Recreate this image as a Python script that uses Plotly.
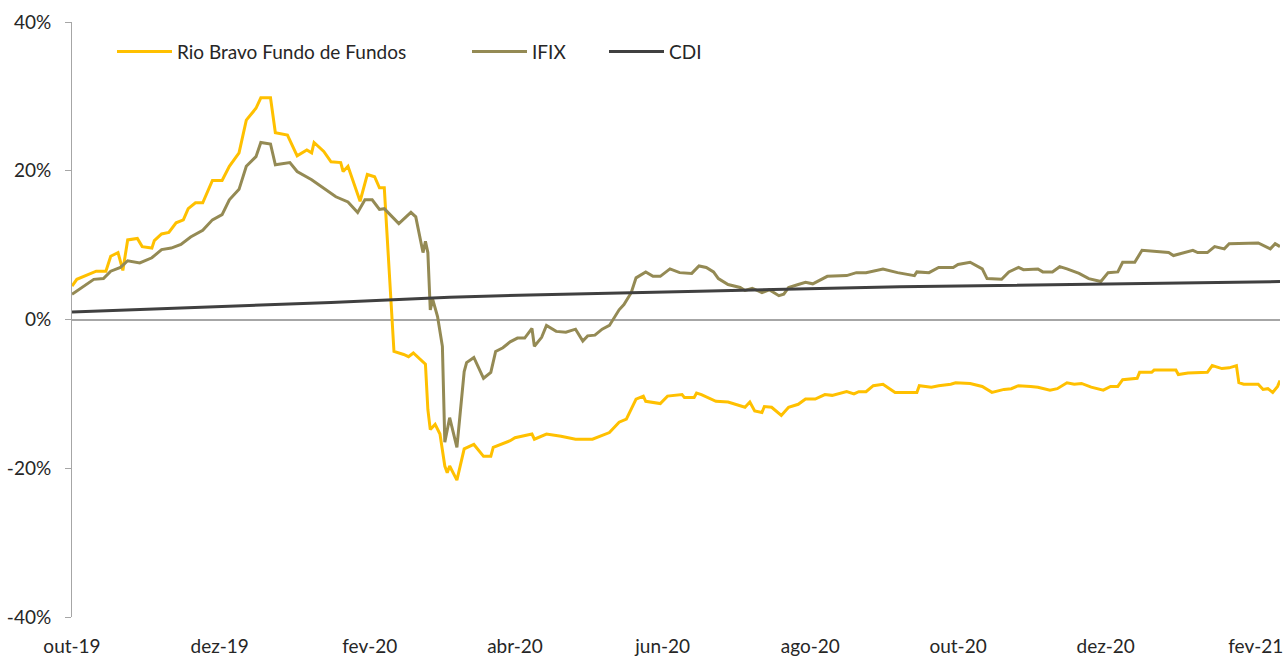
import plotly.graph_objects as go

# Rio Bravo Fundo de Fundos (cumulative return, %)
rb_dates = [
    "2019-10-01", "2019-10-03", "2019-10-11", "2019-10-15", "2019-10-17", "2019-10-20", "2019-10-22",
    "2019-10-24", "2019-10-28", "2019-10-30", "2019-11-03", "2019-11-04", "2019-11-07", "2019-11-10",
    "2019-11-13", "2019-11-16", "2019-11-18", "2019-11-21", "2019-11-24", "2019-11-28", "2019-12-02",
    "2019-12-05", "2019-12-09", "2019-12-12", "2019-12-16", "2019-12-18", "2019-12-22", "2019-12-24",
    "2019-12-29", "2020-01-02", "2020-01-06", "2020-01-08", "2020-01-09", "2020-01-13", "2020-01-16",
    "2020-01-20", "2020-01-21", "2020-01-23", "2020-01-28", "2020-01-31", "2020-02-03", "2020-02-05",
    "2020-02-07", "2020-02-11", "2020-02-15", "2020-02-17", "2020-02-19", "2020-02-24", "2020-02-25",
    "2020-02-26", "2020-02-28", "2020-03-01", "2020-03-03", "2020-03-04", "2020-03-05", "2020-03-08",
    "2020-03-11", "2020-03-15", "2020-03-19", "2020-03-22", "2020-03-23", "2020-03-30", "2020-04-01",
    "2020-04-08", "2020-04-09", "2020-04-14", "2020-04-20", "2020-04-26", "2020-05-03", "2020-05-10",
    "2020-05-14", "2020-05-17", "2020-05-21", "2020-05-24", "2020-05-25", "2020-05-31", "2020-06-03",
    "2020-06-09", "2020-06-10", "2020-06-14", "2020-06-15", "2020-06-17", "2020-06-23", "2020-06-28",
    "2020-07-05", "2020-07-07", "2020-07-09", "2020-07-12", "2020-07-13", "2020-07-16", "2020-07-20",
    "2020-07-23", "2020-07-27", "2020-07-30", "2020-08-03", "2020-08-07", "2020-08-10", "2020-08-16",
    "2020-08-19", "2020-08-21", "2020-08-24", "2020-08-27", "2020-08-31", "2020-09-05", "2020-09-14",
    "2020-09-15", "2020-09-20", "2020-09-23", "2020-09-28", "2020-09-30", "2020-10-06", "2020-10-11",
    "2020-10-15", "2020-10-20", "2020-10-23", "2020-10-26", "2020-10-31", "2020-11-03", "2020-11-08",
    "2020-11-11", "2020-11-15", "2020-11-18", "2020-11-21", "2020-11-25", "2020-11-30", "2020-12-03",
    "2020-12-06", "2020-12-08", "2020-12-14", "2020-12-15", "2020-12-20", "2020-12-21", "2020-12-30",
    "2020-12-31", "2021-01-04", "2021-01-12", "2021-01-14", "2021-01-18", "2021-01-21", "2021-01-24",
    "2021-01-25", "2021-01-27", "2021-02-02", "2021-02-04", "2021-02-06", "2021-02-08", "2021-02-10",
    "2021-02-11",
]
rb_values = [
    4.5, 5.4, 6.5, 6.5, 8.5, 9.0, 6.6,
    10.7, 10.9, 9.8, 9.6, 10.6, 11.5, 11.7,
    13.0, 13.4, 14.9, 15.7, 15.7, 18.7, 18.7,
    20.6, 22.4, 26.8, 28.4, 29.8, 29.8, 25.1,
    24.8, 22.0, 22.8, 22.4, 23.8, 22.6, 21.2,
    21.1, 19.9, 20.6, 15.9, 19.5, 19.2, 17.7,
    17.7, -4.3, -4.7, -5.0, -4.5, -6.0, -12.1,
    -14.8, -14.1, -15.4, -19.7, -20.6, -19.7, -21.6,
    -17.4, -16.8, -18.4, -18.4, -17.2, -16.3, -15.9,
    -15.4, -16.1, -15.4, -15.7, -16.1, -16.1, -15.2,
    -13.8, -13.4, -10.7, -10.3, -11.0, -11.3, -10.3,
    -10.1, -10.5, -10.5, -9.9, -10.1, -11.0, -11.1,
    -11.8, -11.1, -12.3, -12.5, -11.7, -11.8, -12.9,
    -11.8, -11.4, -10.7, -10.7, -10.1, -10.2, -9.7,
    -10.0, -9.7, -9.7, -8.9, -8.7, -9.8, -9.8,
    -8.9, -9.1, -8.9, -8.7, -8.5, -8.6, -9.0,
    -9.8, -9.4, -9.3, -8.9, -9.0, -9.1, -9.5,
    -9.3, -8.5, -8.7, -8.6, -9.1, -9.5, -9.0,
    -9.0, -8.1, -7.9, -7.1, -7.1, -6.8, -6.8,
    -7.4, -7.2, -7.1, -6.2, -6.6, -6.5, -6.2,
    -8.5, -8.7, -8.7, -9.4, -9.3, -9.8, -9.0,
    -8.2,
]

# IFIX (cumulative return, %)
ifix_dates = [
    "2019-10-01", "2019-10-10", "2019-10-14", "2019-10-17", "2019-10-21", "2019-10-24", "2019-10-29",
    "2019-11-03", "2019-11-07", "2019-11-11", "2019-11-15", "2019-11-19", "2019-11-24", "2019-11-28",
    "2019-12-02", "2019-12-05", "2019-12-09", "2019-12-12", "2019-12-16", "2019-12-18", "2019-12-22",
    "2019-12-24", "2019-12-30", "2020-01-02", "2020-01-08", "2020-01-13", "2020-01-18", "2020-01-23",
    "2020-01-27", "2020-01-30", "2020-02-02", "2020-02-05", "2020-02-07", "2020-02-13", "2020-02-18",
    "2020-02-20", "2020-02-23", "2020-02-24", "2020-02-25", "2020-02-26", "2020-02-27", "2020-02-29",
    "2020-03-02", "2020-03-03", "2020-03-05", "2020-03-08", "2020-03-11", "2020-03-12", "2020-03-15",
    "2020-03-19", "2020-03-22", "2020-03-24", "2020-03-27", "2020-03-30", "2020-04-02", "2020-04-05",
    "2020-04-08", "2020-04-09", "2020-04-12", "2020-04-14", "2020-04-18", "2020-04-22", "2020-04-26",
    "2020-04-29", "2020-05-01", "2020-05-04", "2020-05-07", "2020-05-10", "2020-05-14", "2020-05-16",
    "2020-05-19", "2020-05-21", "2020-05-25", "2020-05-28", "2020-05-31", "2020-06-04", "2020-06-08",
    "2020-06-13", "2020-06-16", "2020-06-19", "2020-06-22", "2020-06-24", "2020-06-28", "2020-07-03",
    "2020-07-05", "2020-07-08", "2020-07-12", "2020-07-15", "2020-07-19", "2020-07-21", "2020-07-23",
    "2020-07-27", "2020-07-30", "2020-08-02", "2020-08-08", "2020-08-16", "2020-08-20", "2020-08-24",
    "2020-08-31", "2020-09-06", "2020-09-13", "2020-09-14", "2020-09-19", "2020-09-23", "2020-09-29",
    "2020-10-01", "2020-10-06", "2020-10-11", "2020-10-13", "2020-10-19", "2020-10-22", "2020-10-26",
    "2020-10-28", "2020-11-03", "2020-11-05", "2020-11-09", "2020-11-12", "2020-11-15", "2020-11-20",
    "2020-11-24", "2020-11-29", "2020-12-02", "2020-12-06", "2020-12-08", "2020-12-13", "2020-12-16",
    "2020-12-23", "2020-12-27", "2020-12-29", "2021-01-03", "2021-01-06", "2021-01-08", "2021-01-12",
    "2021-01-15", "2021-01-19", "2021-01-21", "2021-01-26", "2021-01-29", "2021-02-02", "2021-02-07",
    "2021-02-09", "2021-02-11",
]
ifix_values = [
    3.4, 5.4, 5.5, 6.5, 7.0, 7.9, 7.6,
    8.3, 9.4, 9.6, 10.1, 11.1, 12.0, 13.4,
    14.1, 16.1, 17.5, 20.6, 21.9, 23.8, 23.6,
    20.8, 21.1, 19.9, 18.8, 17.7, 16.5, 15.8,
    14.4, 16.1, 16.1, 14.8, 14.9, 12.9, 14.4,
    13.8, 9.0, 10.5, 9.0, 1.3, 2.7, 0.4,
    -3.6, -16.5, -13.2, -17.2, -7.0, -5.8, -5.1,
    -7.9, -7.1, -4.3, -3.8, -3.0, -2.5, -2.5,
    -1.2, -3.6, -2.4, -0.8, -1.6, -1.7, -1.3,
    -2.9, -2.2, -2.1, -1.3, -0.8, 1.3, 2.0,
    3.6, 5.6, 6.4, 5.8, 5.8, 6.8, 6.3,
    6.2, 7.2, 7.0, 6.4, 5.5, 4.7, 4.3,
    3.9, 4.2, 3.6, 4.0, 3.2, 3.4, 4.3,
    4.7, 5.0, 4.8, 5.8, 5.9, 6.3, 6.3,
    6.8, 6.3, 5.9, 6.4, 6.3, 7.0, 7.0,
    7.4, 7.7, 6.8, 5.5, 5.4, 6.4, 7.0,
    6.7, 6.8, 6.4, 6.4, 7.1, 6.8, 6.2,
    5.5, 5.1, 6.3, 6.4, 7.7, 7.7, 9.3,
    9.1, 9.0, 8.6, 9.0, 9.3, 9.0, 9.0,
    9.8, 9.5, 10.2, 10.2, 10.3, 10.3, 9.5,
    10.2, 9.8,
]

# CDI (cumulative return, %)
cdi_dates = ["2019-10-01", "2020-01-16", "2020-03-05", "2020-04-07", "2020-06-16", "2020-09-07", "2021-02-11"]
cdi_values = [1.0, 2.3, 3.0, 3.3, 3.8, 4.4, 5.1]

# Axis labels
x_tick_dates = ["2019-10-01", "2019-12-01", "2020-02-01", "2020-04-01", "2020-06-01",
                "2020-08-01", "2020-10-01", "2020-12-01", "2021-02-01"]
x_tick_text = ["out-19", "dez-19", "fev-20", "abr-20", "jun-20", "ago-20", "out-20", "dez-20", "fev-21"]
y_tick_vals = [-40, -20, 0, 20, 40]
y_tick_text = ["-40%", "-20%", "0%", "20%", "40%"]

FONT = "Lato"
TXT = "#262626"

W, H = 1284, 657
ML, MR, MT, MB = 72, 4, 22, 40
PW = W - ML - MR

fig = go.Figure()
fig.add_trace(go.Scatter(x=rb_dates, y=rb_values, mode="lines", name="Rio Bravo Fundo de Fundos",
                         line=dict(color="#FFC000", width=3), legend="legend"))
fig.add_trace(go.Scatter(x=ifix_dates, y=ifix_values, mode="lines", name="IFIX",
                         line=dict(color="#948A54", width=3), legend="legend2"))
fig.add_trace(go.Scatter(x=cdi_dates, y=cdi_values, mode="lines", name="CDI",
                         line=dict(color="#404040", width=3), legend="legend3"))

leg_common = dict(orientation="h", yanchor="middle", y=0.95, xanchor="left",
                  bgcolor="rgba(0,0,0,0)", font=dict(family=FONT, size=19, color=TXT),
                  itemwidth=55)

def lx(px):
    # px: desired legend-box left, in page pixels
    return (px - ML) / PW

fig.update_layout(
    width=W, height=H,
    margin=dict(l=ML, r=MR, t=MT, b=MB),
    paper_bgcolor="white", plot_bgcolor="white",
    showlegend=True,
    font=dict(family=FONT, size=19, color=TXT),
    legend=dict(x=lx(112), **leg_common),
    legend2=dict(x=lx(467), **leg_common),
    legend3=dict(x=lx(604), **leg_common),
    xaxis=dict(type="date", range=["2019-10-01", "2021-02-11"],
               tickvals=x_tick_dates, ticktext=x_tick_text,
               showgrid=False, zeroline=False, showline=False, ticks="",
               ticklabelstandoff=16, automargin=False,
               tickfont=dict(family=FONT, size=19, color=TXT)),
    yaxis=dict(range=[-40, 40], tickvals=y_tick_vals, ticktext=y_tick_text,
               showgrid=False, zeroline=True, zerolinecolor="#A6A6A6", zerolinewidth=1.5,
               showline=True, linecolor="#A6A6A6", linewidth=1,
               ticks="outside", ticklen=6, tickcolor="#A6A6A6",
               ticklabelstandoff=10, automargin=False,
               tickfont=dict(family=FONT, size=19, color=TXT)),
)

fig.write_html("out.html", config={"displayModeBar": False},
               post_script="document.body.style.margin='0';document.body.style.overflow='hidden';")
